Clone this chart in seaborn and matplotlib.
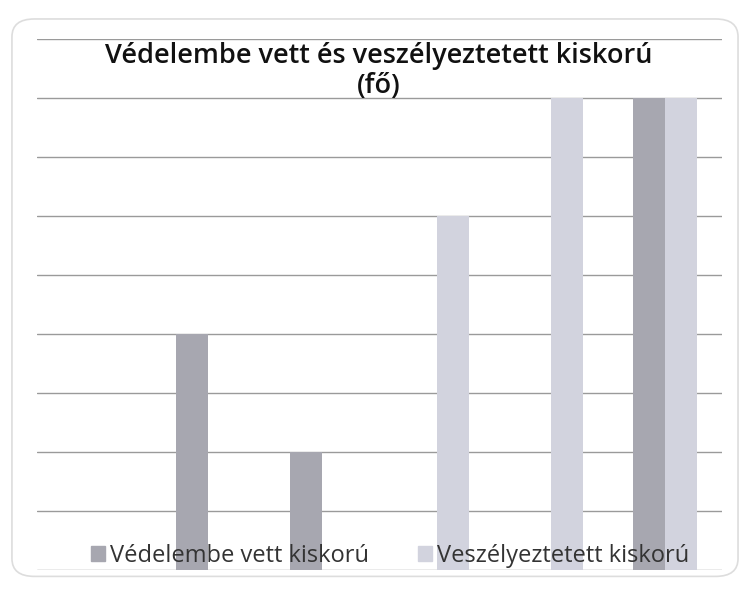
import pandas as pd
import matplotlib.pyplot as plt
import seaborn as sns
from matplotlib.patches import FancyBboxPatch

# values (one gridline = 1 unit)
categories = ["1", "2", "3", "4", "5", "6"]
vedelembe = [0, 4, 2, 0, 0, 8]
veszelyeztetett = [0, 0, 0, 6, 8, 8]
series_names = ["Védelembe vett kiskorú", "Veszélyeztetett kiskorú"]
title_lines = ["Védelembe vett és veszélyeztetett kiskorú", "(fő)"]

df = pd.DataFrame({
    "kategoria": categories * 2,
    "fo": vedelembe + veszelyeztetett,
    "sorozat": [series_names[0]] * len(categories) + [series_names[1]] * len(categories),
})

sns.set_style("white")
plt.rcParams["font.family"] = ["Open Sans", "DejaVu Sans"]

fig = plt.figure(figsize=(7.47, 5.93), dpi=100)
ax = fig.add_axes([0.0495, 0.0388, 0.917, 0.895])

palette = {series_names[0]: "#a7a7b0", series_names[1]: "#d2d3de"}
sns.barplot(
    data=df, x="kategoria", y="fo", hue="sorozat",
    palette=palette, width=0.56, saturation=1, ax=ax, legend=False,
    edgecolor="none", zorder=3,
)

ax.set_ylim(0, 9)
ax.set_yticks(range(0, 10))
ax.yaxis.grid(True, color="#9a9a9a", linewidth=1.0, zorder=0)
ax.set_axisbelow(True)
ax.tick_params(left=False, bottom=False, labelleft=False, labelbottom=False)
ax.set_xlabel("")
ax.set_ylabel("")
for s in ax.spines.values():
    s.set_visible(False)

# chart area border
fig.patches.append(FancyBboxPatch(
    (0.016, 0.028), 0.972, 0.94, boxstyle="round,pad=0,rounding_size=0.03",
    transform=fig.transFigure, facecolor="none", edgecolor="#dddddd", linewidth=1.2,
))

fig.text(0.507, 0.893, title_lines[0], ha="center", va="baseline",
         fontsize=19.5, fontweight="semibold", color="#111111")
fig.text(0.507, 0.843, title_lines[1], ha="center", va="baseline",
         fontsize=19.5, fontweight="semibold", color="#111111")

handles = [plt.Rectangle((0, 0), 1, 1, color=palette[n]) for n in series_names]
fig.legend(handles, series_names, loc="center", bbox_to_anchor=(0.522, 0.062),
           ncol=2, frameon=False, fontsize=17, handlelength=0.6, handleheight=0.6,
           handletextpad=0.2, columnspacing=2.1, labelcolor="#333333")

fig.savefig("out.png", dpi=100)
